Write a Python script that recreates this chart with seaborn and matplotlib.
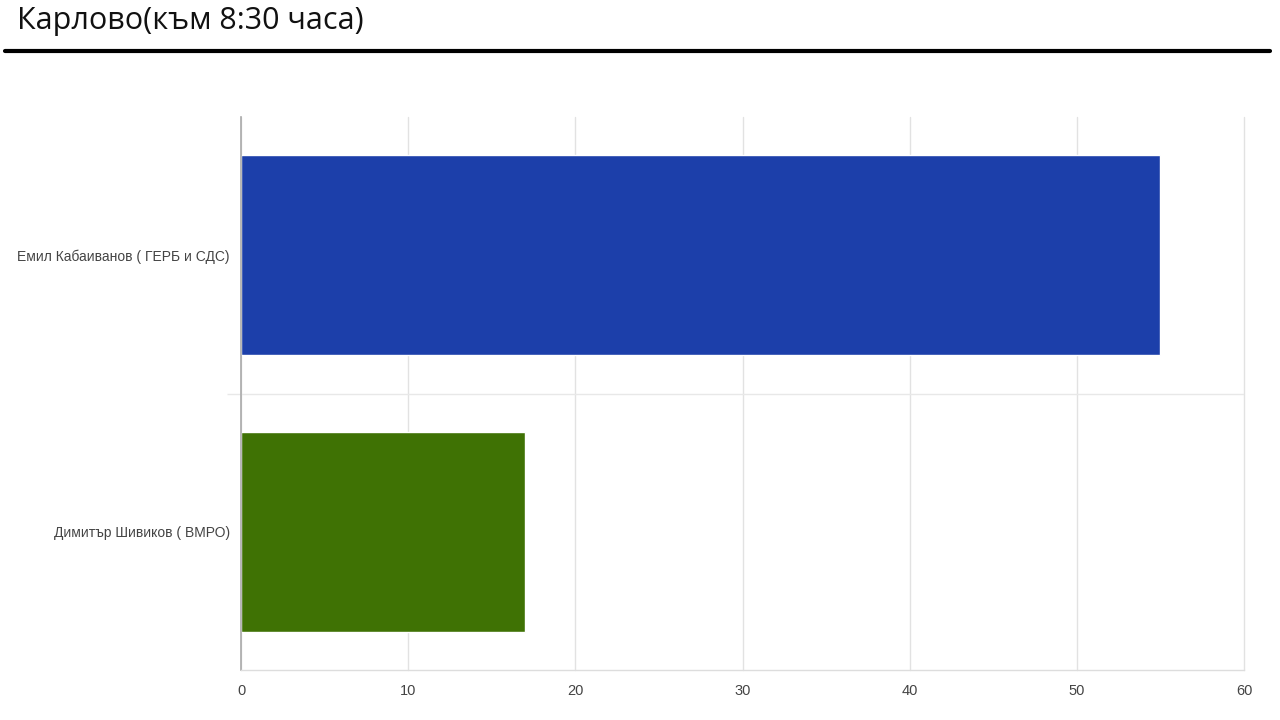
import matplotlib
matplotlib.use("Agg")
import matplotlib.pyplot as plt
import seaborn as sns
import pandas as pd
from matplotlib.lines import Line2D

# Data
candidates = ["Емил Кабаиванов ( ГЕРБ и СДС)", "Димитър Шивиков ( ВМРО)"]
votes = [55, 17]
bar_colors = ["#1c3faa", "#3f7204"]
x_ticks = [0, 10, 20, 30, 40, 50, 60]
title = "Карлово(към 8:30 часа)"

sns.set_theme(style="white")
plt.rcParams["font.family"] = ["Liberation Sans", "DejaVu Sans"]

df = pd.DataFrame({"candidate": candidates, "votes": votes})

fig = plt.figure(figsize=(12.8, 7.2), dpi=100)
ax = fig.add_axes([241 / 1280, 1 - 670 / 720, (1244 - 241) / 1280, (670 - 117) / 720])

sns.barplot(data=df, x="votes", y="candidate", hue="candidate",
            palette=bar_colors, orient="h", width=0.723,
            saturation=1, legend=False, ax=ax)

ax.set_xlim(0, 60)
ax.set_ylim(1.5, -0.5)
ax.set_xticks(x_ticks)
ax.set_xlabel("")
ax.set_ylabel("")

# gridlines
ax.set_axisbelow(True)
ax.grid(axis="x", color="#e2e2e2", linewidth=1, clip_on=False)
ax.set_yticks([0.5], minor=True)
ax.grid(axis="y", which="minor", color="#e8e8e8", linewidth=1)
ax.tick_params(axis="y", which="minor", left=True, length=10, color="#e8e8e8", width=1)
ax.tick_params(axis="y", which="major", length=0, pad=8, labelsize=10, labelcolor="#444444")
ax.tick_params(axis="x", length=0, pad=10, labelsize=10.5, labelcolor="#444444")

for side in ["top", "right"]:
    ax.spines[side].set_visible(False)
ax.spines["left"].set_color("#aaaaaa")
ax.spines["left"].set_linewidth(1.2)
ax.spines["bottom"].set_color("#dddddd")
ax.spines["bottom"].set_linewidth(1)

# header title with thick underline
fig.text(17 / 1280, 1 - 21 / 720, title, fontsize=22, color="#111111",
         family=["Open Sans", "DejaVu Sans"], va="center", ha="left")
fig.add_artist(Line2D([5 / 1280, 1270 / 1280], [1 - 51 / 720, 1 - 51 / 720],
                      color="black", linewidth=3, transform=fig.transFigure))

fig.savefig("out.png", dpi=100)
